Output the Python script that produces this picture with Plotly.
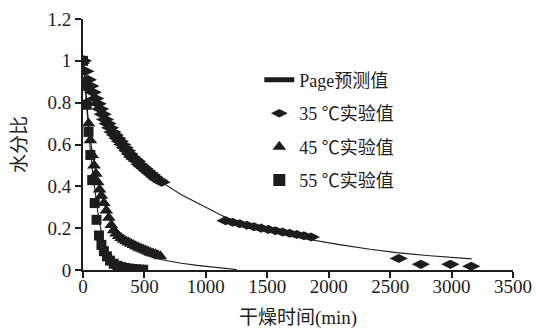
import plotly.graph_objects as go

# ---- data (drying time in min, moisture ratio) ----
t35 = [0, 20, 40, 60, 80, 100, 120, 140, 160, 180, 200, 220, 240, 260, 280, 300,
       320, 340, 360, 380, 400, 420, 440, 460, 480, 500, 520, 540, 560, 580, 600,
       620, 640,
       1160, 1218, 1276, 1334, 1392, 1450, 1508, 1566, 1624, 1682, 1740, 1798, 1856,
       2570, 2750, 2990, 3160]
mr35 = [1.0, 0.95, 0.91, 0.88, 0.85, 0.82, 0.795, 0.77, 0.745, 0.72, 0.70, 0.68,
        0.66, 0.645, 0.63, 0.615, 0.60, 0.585, 0.57, 0.555, 0.54, 0.53, 0.52, 0.505,
        0.495, 0.485, 0.475, 0.465, 0.455, 0.445, 0.435, 0.428, 0.42,
        0.236, 0.228, 0.221, 0.214, 0.207, 0.200, 0.194, 0.188, 0.182, 0.176, 0.170,
        0.164, 0.158,
        0.055, 0.027, 0.027, 0.018]

t45 = [0, 15, 30, 45, 60, 75, 90, 105, 120, 135, 150, 170, 190, 210, 230, 250, 270,
       290, 310, 330, 350, 370, 390, 410, 430, 450, 470, 490, 510, 530, 550, 570,
       590, 610, 630]
mr45 = [1.0, 0.90, 0.80, 0.70, 0.62, 0.55, 0.50, 0.46, 0.42, 0.385, 0.355, 0.32,
        0.285, 0.25, 0.215, 0.19, 0.175, 0.163, 0.153, 0.145, 0.138, 0.131, 0.125,
        0.119, 0.113, 0.108, 0.103, 0.098, 0.093, 0.088, 0.083, 0.079, 0.075, 0.07,
        0.066]

t55 = [0, 12, 30, 45, 60, 75, 95, 110, 130, 150, 170, 195, 220, 250, 280, 310, 340,
       370, 400, 430, 460, 490]
mr55 = [1.0, 0.88, 0.79, 0.66, 0.55, 0.43, 0.32, 0.24, 0.165, 0.12, 0.09, 0.065,
        0.045, 0.03, 0.02, 0.014, 0.01, 0.007, 0.005, 0.003, 0.002, 0.001]

# Page model predicted curves
page35_t = [0, 20, 50, 100, 200, 300, 400, 500, 640, 800, 900, 1000, 1150, 1300,
            1500, 1700, 1875, 2100, 2336, 2553, 2800, 3000, 3163]
page35_mr = [1.0, 0.945, 0.89, 0.82, 0.71, 0.62, 0.55, 0.49, 0.42, 0.36, 0.33, 0.30,
             0.255, 0.22, 0.185, 0.16, 0.142, 0.12, 0.099, 0.083, 0.069, 0.06, 0.053]
page45_t = [0, 15, 30, 50, 75, 100, 125, 150, 200, 250, 300, 400, 500, 630, 800,
            930, 1100, 1250]
page45_mr = [1.0, 0.89, 0.79, 0.67, 0.56, 0.48, 0.41, 0.355, 0.27, 0.205, 0.16,
             0.105, 0.075, 0.05, 0.032, 0.022, 0.01, 0.002]
page55_t = [0, 10, 20, 30, 45, 60, 80, 100, 120, 140, 165, 195, 225, 250, 300, 350,
            400, 500]
page55_mr = [1.0, 0.95, 0.87, 0.78, 0.67, 0.57, 0.46, 0.36, 0.28, 0.21, 0.14, 0.08,
             0.05, 0.035, 0.018, 0.008, 0.004, 0.001]

x_ticks = [0, 500, 1000, 1500, 2000, 2500, 3000, 3500]
y_ticks = [0, 0.2, 0.4, 0.6, 0.8, 1.0, 1.2]
y_tick_text = ["0", "0.2", "0.4", "0.6", "0.8", "1", "1.2"]

FONT = "Liberation Serif, 'Noto Sans CJK SC', serif"
INK = "#1e1c1d"

line_x = page35_t + [None] + page45_t + [None] + page55_t
line_y = page35_mr + [None] + page45_mr + [None] + page55_mr

fig = go.Figure()
fig.add_trace(go.Scatter(x=line_x, y=line_y, mode="lines", name="Page预测值",
                         legendgroup="g0", line=dict(color=INK, width=1.1)))
fig.add_trace(go.Scatter(x=t35, y=mr35, mode="markers", name="35 ℃实验值",
                         legendgroup="g1",
                         marker=dict(symbol="diamond-wide", size=13, color=INK)))
fig.add_trace(go.Scatter(x=t45, y=mr45, mode="markers", name="45 ℃实验值",
                         legendgroup="g2",
                         marker=dict(symbol="triangle-up", size=12, color=INK)))
fig.add_trace(go.Scatter(x=t55, y=mr55, mode="markers", name="55 ℃实验值",
                         legendgroup="g3",
                         marker=dict(symbol="square", size=10, color=INK)))

axis_common = dict(showline=True, linecolor=INK, linewidth=2, ticks="outside",
                   ticklen=6, tickwidth=2, tickcolor=INK, showgrid=False,
                   zeroline=False, automargin=False,
                   tickfont=dict(family=FONT, size=19, color=INK))

fig.update_layout(
    width=536, height=330,
    margin=dict(l=83, r=23, t=19, b=60),
    paper_bgcolor="white", plot_bgcolor="white",
    font=dict(family=FONT, color=INK),
    xaxis=dict(range=[0, 3500], tickvals=x_ticks, ticklabelstandoff=-8,
               **axis_common,
               title=dict(text="干燥时间(min)", font=dict(family=FONT, size=19, color=INK),
                          standoff=15)),
    yaxis=dict(range=[0, 1.2], tickvals=y_ticks, ticktext=y_tick_text,
               **axis_common,
               title=dict(text="水分比", font=dict(family=FONT, size=19, color=INK),
                          standoff=16)),
    legend=dict(x=0.41, y=0.83, xanchor="left", yanchor="top",
                bgcolor="rgba(0,0,0,0)", font=dict(family=FONT, size=18, color=INK),
                tracegroupgap=7, itemsizing="constant"),
    showlegend=True,
)

fig.write_html("out.html")
